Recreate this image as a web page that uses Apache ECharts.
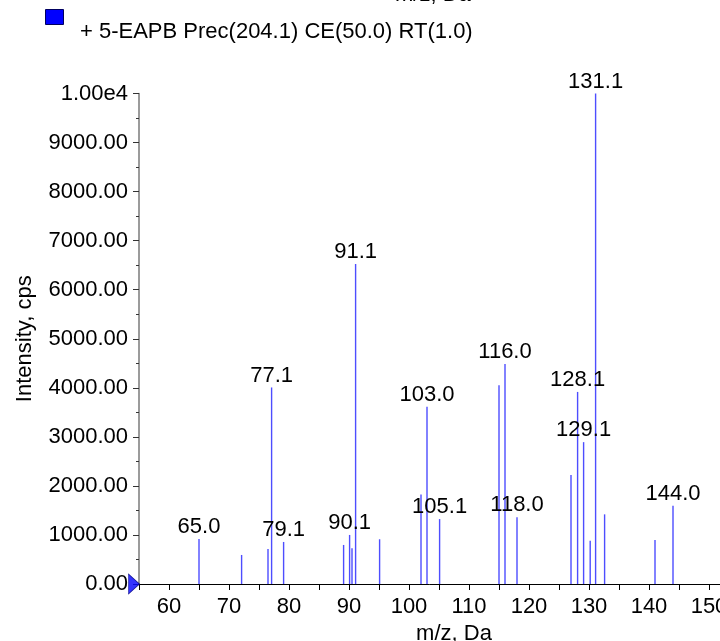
<!DOCTYPE html>
<html>
<head>
<meta charset="utf-8">
<script src="https://cdn.jsdelivr.net/npm/echarts@6/dist/echarts.min.js"></script>
<style>
html,body{margin:0;padding:0;background:#fff;}
#chart{width:720px;height:641px;}
</style>
</head>
<body>
<div id="chart"></div>
<script>
// ---- data ----
const seriesName = '+ 5-EAPB Prec(204.1) CE(50.0) RT(1.0)';
const mzValues = [65.0, 72.1, 76.5, 77.1, 79.1, 89.1, 90.1, 90.5, 91.1, 95.1, 102.0, 103.0, 105.1, 115.0, 116.0, 118.0, 127.0, 128.1, 129.1, 130.2, 131.1, 132.6, 141.0, 144.0];
const intensities = [918, 592, 714, 4007, 857, 796, 1000, 728, 6524, 912, 1825, 3612, 1324, 4053, 4487, 1360, 2220, 3916, 2892, 882, 10000, 1420, 896, 1595];
const labeledPeaks = [65.0, 77.1, 79.1, 90.1, 91.1, 103.0, 105.1, 116.0, 118.0, 128.1, 129.1, 131.1, 144.0];
const xRange = [55, 160];
const yRange = [0, 10000];
const originMarker = [55, 0];

const FONT = 'Liberation Sans, Arial, sans-serif';
const FS = 22;
const peakData = mzValues.map((mz, i) => ({
  value: [mz, intensities[i]],
  label: { show: labeledPeaks.indexOf(mz) >= 0 }
}));

const chart = echarts.init(document.getElementById('chart'), null, {renderer: 'canvas'});
chart.setOption({
  animation: false,
  backgroundColor: '#fff',
  textStyle: { fontFamily: FONT },
  grid: { left: 139, top: 93.5, width: 630, height: 490.5, outerBoundsMode: 'none', containLabel: false },
  graphic: [{
    type: 'text', left: 395, top: -16,
    style: { text: 'm/z, Da', font: FS + 'px ' + FONT, fill: '#000' }
  }, {
    type: 'rect', left: 45, top: 9,
    shape: { width: 18, height: 15 },
    style: { fill: '#0000ff', stroke: '#000060', lineWidth: 1 }
  }, {
    type: 'text', left: 80, top: 21,
    style: { text: seriesName, font: FS + 'px ' + FONT, fill: '#000' }
  }],
  xAxis: {
    type: 'value', min: xRange[0], max: xRange[1], interval: 5,
    name: 'm/z, Da', nameLocation: 'middle', nameGap: 39,
    nameTextStyle: { fontSize: FS, color: '#000', fontFamily: FONT },
    axisLine: { show: true, onZero: false, lineStyle: { color: '#000', width: 1 } },
    axisTick: { show: true, length: 6, lineStyle: { color: '#000' } },
    axisLabel: { fontSize: FS, color: '#000', margin: 12, fontFamily: FONT,
      formatter: v => (v % 10 === 0 ? String(v) : '') },
    splitLine: { show: false }
  },
  yAxis: {
    type: 'value', min: yRange[0], max: yRange[1], interval: 1000,
    name: 'Intensity, cps', nameLocation: 'middle', nameGap: 103,
    nameTextStyle: { fontSize: FS, color: '#000', fontFamily: FONT },
    axisLine: { show: true, lineStyle: { color: '#7a7a7a', width: 1.5 } },
    axisTick: { show: true, length: 6, lineStyle: { color: '#333' } },
    minorTick: { show: true, splitNumber: 2, length: 3, lineStyle: { color: '#333' } },
    minorSplitLine: { show: false },
    axisLabel: { fontSize: FS, color: '#000', margin: 11, fontFamily: FONT,
      formatter: v => (v === 10000 ? '1.00e4' : v.toFixed(2)) },
    splitLine: { show: false }
  },
  series: [{
    name: seriesName,
    type: 'bar',
    barWidth: 1.4,
    itemStyle: { color: '#4d4dff' },
    label: {
      show: false, position: 'top', distance: 1,
      fontSize: FS, color: '#000', fontFamily: FONT,
      formatter: p => p.value[0].toFixed(1)
    },
    data: peakData
  }, {
    name: 'origin',
    type: 'scatter',
    symbol: 'triangle',
    symbolSize: [20, 11],
    symbolRotate: -90,
    symbolOffset: [-5, 0],
    itemStyle: { color: '#0000ff', borderColor: '#000080', borderWidth: 0.8 },
    z: 5,
    data: [originMarker]
  }]
});
</script>
</body>
</html>
